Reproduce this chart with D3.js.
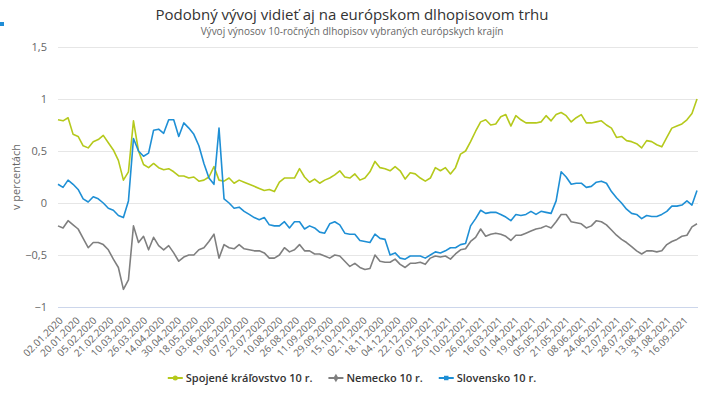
<!DOCTYPE html>
<html>
<head>
<meta charset="utf-8">
<script src="https://cdn.jsdelivr.net/npm/d3@7"></script>
<style>
  body { margin: 0; background: #fff; }
  text { font-family: "Open Sans", "DejaVu Sans", sans-serif; }
</style>
</head>
<body>
<div id="chart"></div>
<script>
var tickLabels = ["02.01.2020","20.01.2020","05.02.2020","21.02.2020","10.03.2020","26.03.2020","14.04.2020","30.04.2020","18.05.2020","03.06.2020","19.06.2020","07.07.2020","23.07.2020","10.08.2020","26.08.2020","11.09.2020","29.09.2020","15.10.2020","02.11.2020","18.11.2020","04.12.2020","22.12.2020","07.01.2021","25.01.2021","10.02.2021","26.02.2021","16.03.2021","01.04.2021","19.04.2021","05.05.2021","21.05.2021","08.06.2021","24.06.2021","12.07.2021","28.07.2021","13.08.2021","31.08.2021","16.09.2021"];

// UK, DE, SK 10y yields, sampled evenly across the period
var uk = [0.80,0.79,0.82,0.66,0.64,0.55,0.53,0.59,0.61,0.65,0.58,0.51,0.41,0.22,0.30,0.79,0.50,0.37,0.34,0.38,0.34,0.32,0.33,0.30,0.26,0.26,0.24,0.25,0.21,0.22,0.25,0.35,
  0.22,0.21,0.24,0.19,0.22,0.20,0.18,0.16,0.14,0.12,0.13,0.11,0.20,0.24,0.24,0.24,0.33,0.25,0.20,0.23,0.19,0.22,0.24,0.27,0.31,0.25,0.24,0.28,0.22,0.24,0.30,0.40,
  0.34,0.33,0.31,0.35,0.31,0.23,0.29,0.28,0.24,0.21,0.24,0.34,0.31,0.34,0.28,0.34,0.47,0.50,0.59,0.69,0.78,0.80,0.75,0.76,0.83,0.85,0.74,0.84,0.80,0.77,0.77,0.77,
  0.78,0.84,0.79,0.85,0.87,0.84,0.78,0.82,0.85,0.77,0.77,0.78,0.79,0.75,0.72,0.63,0.64,0.60,0.59,0.57,0.53,0.60,0.59,0.56,0.54,0.63,0.72,0.74,0.76,0.80,0.86,1.00];

var de = [-0.22,-0.24,-0.17,-0.21,-0.25,-0.34,-0.43,-0.38,-0.38,-0.40,-0.45,-0.54,-0.62,-0.83,-0.74,-0.22,-0.38,-0.32,-0.45,-0.33,-0.41,-0.45,-0.41,-0.48,-0.56,-0.52,-0.50,-0.50,-0.45,-0.43,-0.37,-0.30,
  -0.53,-0.40,-0.43,-0.44,-0.40,-0.44,-0.45,-0.46,-0.46,-0.48,-0.53,-0.53,-0.50,-0.43,-0.47,-0.45,-0.40,-0.46,-0.46,-0.49,-0.49,-0.51,-0.53,-0.50,-0.51,-0.56,-0.61,-0.58,-0.62,-0.64,-0.63,-0.50,
  -0.56,-0.57,-0.57,-0.54,-0.59,-0.62,-0.58,-0.58,-0.57,-0.59,-0.53,-0.51,-0.52,-0.51,-0.54,-0.49,-0.45,-0.44,-0.37,-0.33,-0.25,-0.32,-0.30,-0.29,-0.30,-0.32,-0.36,-0.31,-0.31,-0.29,-0.27,-0.25,
  -0.24,-0.22,-0.24,-0.18,-0.11,-0.11,-0.18,-0.19,-0.20,-0.24,-0.22,-0.17,-0.18,-0.21,-0.26,-0.31,-0.35,-0.38,-0.42,-0.46,-0.49,-0.46,-0.46,-0.47,-0.46,-0.40,-0.37,-0.35,-0.32,-0.31,-0.23,-0.20];

var sk = [0.18,0.15,0.22,0.18,0.13,0.04,0.01,0.06,0.04,0.00,-0.05,-0.07,-0.12,-0.14,0.02,0.62,0.50,0.45,0.48,0.70,0.71,0.67,0.80,0.80,0.64,0.77,0.72,0.66,0.55,0.38,0.24,0.18,
  0.72,0.04,0.00,-0.05,-0.04,-0.08,-0.11,-0.14,-0.16,-0.14,-0.21,-0.22,-0.22,-0.18,-0.24,-0.18,-0.18,-0.25,-0.22,-0.24,-0.28,-0.29,-0.20,-0.18,-0.21,-0.29,-0.30,-0.30,-0.36,-0.37,-0.38,-0.30,
  -0.34,-0.35,-0.50,-0.48,-0.53,-0.54,-0.51,-0.51,-0.51,-0.53,-0.50,-0.47,-0.48,-0.46,-0.43,-0.43,-0.40,-0.39,-0.22,-0.15,-0.07,-0.10,-0.09,-0.09,-0.11,-0.135,-0.17,-0.11,-0.12,-0.11,-0.08,-0.11,
  -0.08,-0.09,-0.10,0.02,0.30,0.25,0.18,0.19,0.19,0.15,0.16,0.20,0.21,0.19,0.11,0.05,0.00,-0.06,-0.10,-0.11,-0.15,-0.12,-0.13,-0.13,-0.11,-0.08,-0.03,-0.03,-0.02,0.02,-0.02,0.12];

var seriesNames = ["Spojené kráľovstvo 10 r.", "Nemecko 10 r.", "Slovensko 10 r."];
var yTicks = [-1, -0.5, 0, 0.5, 1, 1.5];

var lastDay = 454, labelEvery = 12;

var width = 704, height = 400;
var plot = {left: 58, right: 697, top: 47, bottom: 307};

var svg = d3.select("#chart").append("svg")
    .attr("width", width)
    .attr("height", height);

var x = d3.scaleLinear().domain([0, lastDay]).range([plot.left, plot.right]);
var y = d3.scaleLinear().domain([-1, 1.5]).range([plot.bottom, plot.top]);

var sk_locale = d3.formatLocale({decimal: ",", thousands: " ", grouping: [3], currency: ["", " €"]});
var fmt = sk_locale.format("");

// small square in the corner
svg.append("rect")
    .attr("x", 0).attr("y", 22)
    .attr("width", 4).attr("height", 4)
    .style("fill", "#1f8dd6");

svg.append("text")
    .attr("x", width / 2)
    .attr("y", 20)
    .attr("text-anchor", "middle")
    .style("font-size", "15px")
    .style("fill", "#333")
    .text("Podobný vývoj vidieť aj na európskom dlhopisovom trhu");

svg.append("text")
    .attr("x", width / 2)
    .attr("y", 35)
    .attr("text-anchor", "middle")
    .style("font-size", "10px")
    .style("fill", "#666")
    .text("Vývoj výnosov 10-ročných dlhopisov vybraných európskych krajín");

// grid
svg.append("g")
    .selectAll("line")
    .data(yTicks)
    .enter().append("line")
    .attr("x1", plot.left).attr("x2", plot.right + 1)
    .attr("y1", function(d) { return Math.round(y(d)) + 0.5; })
    .attr("y2", function(d) { return Math.round(y(d)) + 0.5; })
    .style("stroke", function(d) { return d === -1 ? "#ccd6eb" : "#e6e6e6"; })
    .style("stroke-width", 1);

var yAxis = svg.append("g")
    .attr("transform", "translate(" + plot.left + ",0)")
    .call(d3.axisLeft(y).tickValues(yTicks).tickSize(0).tickPadding(11).tickFormat(fmt));
yAxis.select(".domain").remove();
yAxis.selectAll("text")
    .style("font-size", "11px")
    .style("fill", "#666")
    .style("font-family", "\"Open Sans\", sans-serif");

svg.append("text")
    .attr("transform", "translate(20," + ((plot.top + plot.bottom) / 2) + ") rotate(-90)")
    .attr("text-anchor", "middle")
    .style("font-size", "11px")
    .style("fill", "#666")
    .text("v percentách");

var xAxis = svg.append("g")
    .attr("transform", "translate(0," + plot.bottom + ")")
    .call(d3.axisBottom(x)
      .tickValues(tickLabels.map(function(d, i) { return i * labelEvery; }))
      .tickSize(0)
      .tickFormat(function(d, i) { return tickLabels[i]; }));
xAxis.select(".domain").remove();
xAxis.selectAll("text")
    .attr("text-anchor", "end")
    .attr("dy", "0")
    .attr("transform", "translate(3,12) rotate(-45)")
    .style("font-size", "10px")
    .style("fill", "#666")
    .style("font-family", "\"Open Sans\", sans-serif");

var series = [
  {name: seriesNames[0], values: uk, color: "#b5c91c", marker: "circle"},
  {name: seriesNames[1], values: de, color: "#7f7f7f", marker: "diamond"},
  {name: seriesNames[2], values: sk, color: "#1e8fd5", marker: "square"}
];

function lineFor(values) {
  return d3.line()
    .x(function(d, i) { return x(i * lastDay / (values.length - 1)); })
    .y(function(d) { return y(d); })
    .curve(d3.curveLinear);
}

series.forEach(function(s) {
  svg.append("path")
    .datum(s.values)
    .attr("d", lineFor(s.values))
    .style("fill", "none")
    .style("stroke", s.color)
    .style("stroke-width", 1.6)
    .style("stroke-linejoin", "round");
});

// legend
var legend = svg.append("g");
var lx = 0;
series.forEach(function(s) {
  var g = legend.append("g").attr("transform", "translate(" + lx + ",0)");
  g.append("line")
    .attr("x1", 0).attr("x2", 15).attr("y1", 0).attr("y2", 0)
    .style("stroke", s.color).style("stroke-width", 2);
  var sym = s.marker === "circle" ? d3.symbolCircle : (s.marker === "diamond" ? d3.symbolDiamond : d3.symbolSquare);
  g.append("path")
    .attr("d", d3.symbol().type(sym).size(s.marker === "diamond" ? 22 : 20))
    .attr("transform", "translate(7.5,0)")
    .style("fill", s.color);
  var t = g.append("text")
    .attr("x", 18).attr("y", 4)
    .style("font-size", "11px")
    .style("font-weight", "600")
    .style("fill", "#333")
    .text(s.name);
  lx += 18 + t.node().getComputedTextLength() + 16;
});
lx -= 16;
legend.attr("transform", "translate(" + (width / 2 - lx / 2) + ",378)");
</script>
</body>
</html>
